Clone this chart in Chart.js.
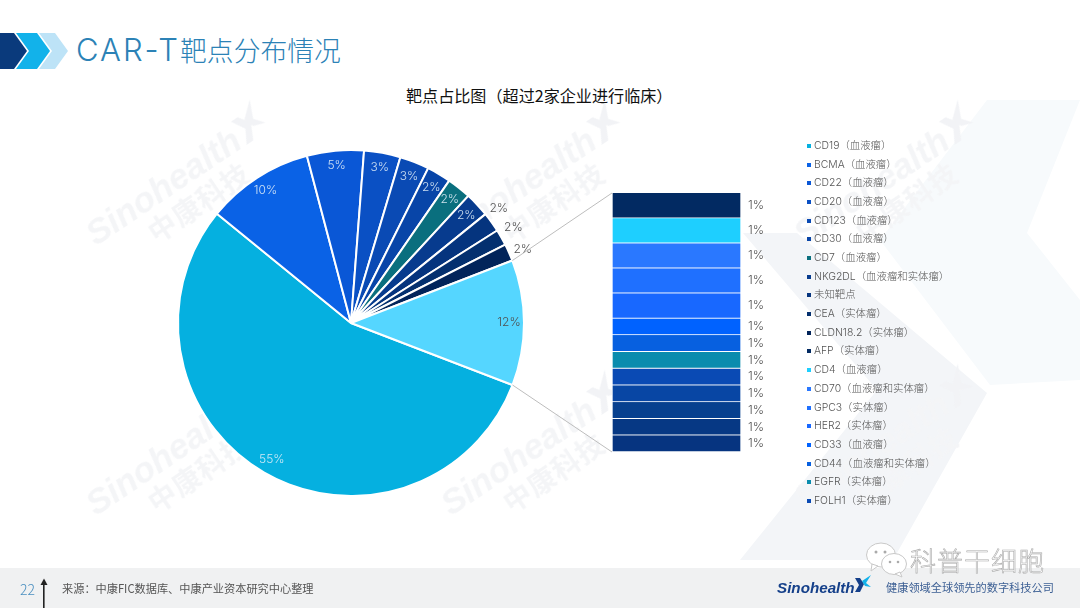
<!DOCTYPE html>
<html lang="zh"><head><meta charset="utf-8">
<style>
html,body{margin:0;padding:0;background:#fff;width:1080px;height:608px;overflow:hidden;font-family:"Noto Sans CJK SC","Noto Sans",sans-serif}
#stage{position:relative;width:1080px;height:608px;overflow:hidden;background:#fff}
.abs{position:absolute;white-space:nowrap}
canvas{position:absolute;left:0;top:0}
.wm{position:absolute;transform:rotate(-34deg);transform-origin:0 34px;color:#f4f5f7;font-family:"Liberation Sans",sans-serif;font-style:italic;font-weight:700;line-height:1;white-space:nowrap;filter:blur(.6px)}
.wm b{display:block;font-size:35px;font-weight:700;height:34px}
.wm i{display:block;font-size:28px;font-style:normal;font-family:"Noto Sans CJK SC";margin-left:52px;margin-top:2px;letter-spacing:1px}
.wm svg{position:absolute;left:182px;top:-6px}
#legend div{position:absolute;left:807px;height:16px;line-height:16px;font-size:10.4px;color:#555;white-space:nowrap;font-family:Inter,"Noto Sans CJK SC",sans-serif;font-weight:300}
#legend s{position:absolute;left:0;top:6px;width:4px;height:4px}
#legend span{position:absolute;left:7px;top:0}
</style></head><body><div id="stage">
<svg class="abs" style="left:0;top:0" width="1080" height="608">
  <polygon points="987,100 1080,100 1027,233 1080,300 1080,380 990,385 880,240" fill="#f7fafc"/>
  <polygon points="743,233 797,233 987,393 893,560 740,560 877,390" fill="#f3f5f8"/>
  <rect x="0" y="568" width="1080" height="40" fill="#f0f1f2"/>
  <polygon points="0,33 14,33 27,51 14,69 0,69" fill="#0a3a7c"/>
  <polygon points="16,33 37,33 50,51 37,69 16,69 29,51" fill="#12b2ea"/>
  <polygon points="39,33 55,33 68,51 55,69 39,69 52,51" fill="#bde3f7"/>
  <rect x="43" y="584" width="1.6" height="24" fill="#222"/>
  <polygon points="40.5,585 44,578.5 47.5,585" fill="#222"/>
</svg>
<div id="wms"></div>
<div class="abs" style="left:76px;top:29px;font-size:26.8px;line-height:42px;color:#2c82b6;font-weight:300"><span style="font-family:Inter,'Noto Sans';font-size:31px;font-weight:300;letter-spacing:2px">CAR-T</span>靶点分布情况</div>
<div class="abs" style="left:406px;top:83px;font-size:16.1px;line-height:24px;color:#111;font-weight:400">靶点占比图（超过2家企业进行临床）</div>
<canvas id="pie" width="1080" height="608"></canvas>
<canvas id="bar" width="1080" height="608"></canvas>
<div id="legend"></div>
<div class="abs" style="left:20px;top:579px;font-size:14px;line-height:20px;color:#4a8fc0;font-weight:300">22</div>
<div class="abs" style="left:62px;top:579px;font-size:11.2px;line-height:18px;color:#555">来源：中康FIC数据库、中康产业资本研究中心整理</div>
<div class="abs" style="left:777px;top:577px;font-family:'Liberation Sans';font-style:italic;font-weight:700;font-size:15.2px;line-height:22px;color:#15408a">Sinohealth</div>
<svg class="abs" style="left:855px;top:575px" width="18" height="20"><polygon points="0,3 5,3 9,9 5,17 0,17 4,10" fill="#15408a"/><polygon points="7,6 16,0 11,8 16,12 10,11" fill="#12b2ea"/></svg>
<div class="abs" style="left:886px;top:578px;font-size:11.2px;line-height:18px;color:#3c5f94">健康领域全球领先的数字科技公司</div>
<svg class="abs" style="left:864px;top:541px" width="44" height="38">
  <ellipse cx="17" cy="14" rx="14.5" ry="12" fill="#fff" stroke="#c8c8c8" stroke-width="1"/>
  <polygon points="8,23 7,30 14,25" fill="#fff" stroke="#c8c8c8" stroke-width="1"/>
  <ellipse cx="30" cy="23" rx="12.5" ry="10.5" fill="#fff" stroke="#c8c8c8" stroke-width="1"/>
  <polygon points="36,31 38,36 31,33" fill="#fff" stroke="#c8c8c8" stroke-width="1"/>
  <circle cx="12" cy="11" r="1.5" fill="#aaa"/><circle cx="21" cy="11" r="1.5" fill="#aaa"/>
  <circle cx="26" cy="21" r="1.3" fill="#aaa"/><circle cx="34" cy="21" r="1.3" fill="#aaa"/>
</svg>
<div class="abs" style="left:910px;top:543px;font-size:26px;line-height:34px;color:#fff;font-weight:300;-webkit-text-stroke:.6px #aaa;letter-spacing:1px">科普干细胞</div>
</div>
<script src="https://cdn.jsdelivr.net/npm/chart.js@4/dist/chart.umd.js"></script>
<script>
const pieLabels = ["CD19","BCMA","CD22","CD20","CD123","CD30","CD7","NKG2DL","未知靶点","CEA","CLDN18.2","其他"];
const pieValues = [55,10,5.3,3.4,2.75,2.25,2.25,2.3,1.85,1.5,1.6,11.7];
const pieTexts = ["55%","10%","5%","3%","3%","2%","2%","2%","2%","2%","2%","12%"];
const pieColors = ["#05b0e0","#0a62e6","#0a57d6","#0a50c4","#0a4ab4","#0845a8","#0a6f7e","#073b8e","#05347e","#04306f","#02245a","#55d6ff"];
const barLabels = ["AFP","CD4","CD70","GPC3","HER2","CD33","CD44","EGFR","FOLH1","其他","其他","其他","其他"];
const barValues = [1.17,1.17,1.17,1.17,1.17,.78,.78,.78,.78,.78,.78,.78,.78];
const barColors = ["#022a62","#1ecfff","#2a78ff","#1f70ff","#1868ff","#0062ff","#0760e0","#0a8cae","#0a4ab4","#0846a4","#07408f","#063884","#063480"];
const barTexts = ["1%","1%","1%","1%","1%","1%","1%","1%","1%","1%","1%","1%","1%"];
const legendNames = ["CD19（血液瘤）","BCMA（血液瘤）","CD22（血液瘤）","CD20（血液瘤）","CD123（血液瘤）","CD30（血液瘤）","CD7（血液瘤）","NKG2DL（血液瘤和实体瘤）","未知靶点","CEA（实体瘤）","CLDN18.2（实体瘤）","AFP（实体瘤）","CD4（血液瘤）","CD70（血液瘤和实体瘤）","GPC3（实体瘤）","HER2（实体瘤）","CD33（血液瘤）","CD44（血液瘤和实体瘤）","EGFR（实体瘤）","FOLH1（实体瘤）"];
const legendColors = ["#05b0e0","#0a62e6","#0a57d6","#0a50c4","#0a4ab4","#0845a8","#0a6f7e","#073b8e","#05347e","#04306f","#02245a","#022a62","#1ecfff","#2a78ff","#1f70ff","#1868ff","#0062ff","#0760e0","#0a8cae","#0a4ab4"];

// faint background watermarks
const wmSpots = [[98,250],[453,250],[806,250],[98,520],[453,520],[806,514]];
const wmLogo = '<svg width="30" height="42"><polygon points="0,8 8,8 16,20 8,36 0,36 8,22" fill="#f2f3f6"/><polygon points="12,14 28,0 20,18 28,28 16,24" fill="#f2f3f6"/></svg>';
document.getElementById('wms').innerHTML = wmSpots.map(p=>`<div class="wm" style="left:${p[0]}px;top:${p[1]-34}px"><b>Sinohealth</b><i>中康科技</i>${wmLogo}</div>`).join('');
// legend list
document.getElementById('legend').innerHTML = legendNames.map((n,i)=>`<div style="top:${138+i*18.68}px"><s style="background:${legendColors[i]}"></s><span>${n}</span></div>`).join('');

Chart.defaults.animation = false;
Chart.defaults.responsive = false;
Chart.defaults.font.family = 'Inter,"Noto Sans","Noto Sans CJK SC",sans-serif';
const labelFont = '300 12px Inter,"Noto Sans"';

const pieTextPlugin = {id:'pieText',afterDatasetsDraw(c,args,opts){
  const ctx=c.ctx, arcs=c.getDatasetMeta(0).data;
  ctx.save();ctx.textAlign='center';ctx.textBaseline='middle';ctx.font=labelFont;
  arcs.forEach((a,i)=>{
    const out=opts.outside.includes(i), dark=out||opts.dark.includes(i), mid=(a.startAngle+a.endAngle)/2, r=a.outerRadius+(out?15:-15);
    const n=opts.nudge[i]||[0,0];
    ctx.fillStyle=dark?'#4f4f4f':'rgba(225,238,248,.9)';
    ctx.fillText(pieTexts[i],a.x+Math.cos(mid)*r+n[0],a.y+Math.sin(mid)*r+n[1]);
  });
  ctx.restore();
}};
const pieChart=new Chart(document.getElementById('pie'),{type:'pie',
  data:{labels:pieLabels,datasets:[{data:pieValues,backgroundColor:pieColors,borderColor:'#fff',borderWidth:2}]},
  options:{rotation:111,layout:{padding:{left:177,top:149,right:555,bottom:111}},
    plugins:{legend:{display:false},tooltip:{enabled:false},
      pieText:{outside:[8,9,10],dark:[11],nudge:{8:[-5,-5],9:[-1,-3],10:[0,3]}}}},
  plugins:[pieTextPlugin]});

const barPlugin={id:'barExtras',afterDatasetsDraw(c){
  const ctx=c.ctx; ctx.save();ctx.textAlign='left';ctx.textBaseline='middle';ctx.font=labelFont;ctx.fillStyle='#4f4f4f';
  c.data.datasets.forEach((d,i)=>{const b=c.getDatasetMeta(i).data[0];
    ctx.fillText(barTexts[i],b.x+b.width/2+7,(b.y+b.base)/2);});
  const arcs=pieChart.getDatasetMeta(0).data, last=arcs[arcs.length-1];
  const first=c.getDatasetMeta(0).data[0], end=c.getDatasetMeta(barValues.length-1).data[0];
  const left=first.x-first.width/2;
  ctx.strokeStyle='#bdbdbd';ctx.lineWidth=1;
  [[last.startAngle,Math.min(first.base,first.y)],[last.endAngle,Math.max(end.base,end.y)]].forEach(([ang,y])=>{
    ctx.beginPath();ctx.moveTo(last.x+Math.cos(ang)*last.outerRadius,last.y+Math.sin(ang)*last.outerRadius);ctx.lineTo(left,y);ctx.stroke();});
  ctx.restore();
}};
new Chart(document.getElementById('bar'),{type:'bar',
  data:{labels:['其他'],datasets:barValues.map((v,i)=>({label:barLabels[i],data:[v],backgroundColor:barColors[i],borderColor:'#fff',borderWidth:1,barPercentage:1,categoryPercentage:1}))},
  options:{layout:{padding:{left:612,top:193,right:339,bottom:156}},
    scales:{x:{stacked:true,display:false},y:{stacked:true,display:false,reverse:true,min:0,max:barValues.reduce((a,b)=>a+b,0)}},
    plugins:{legend:{display:false},tooltip:{enabled:false}}},
  plugins:[barPlugin]});
</script></body></html>
